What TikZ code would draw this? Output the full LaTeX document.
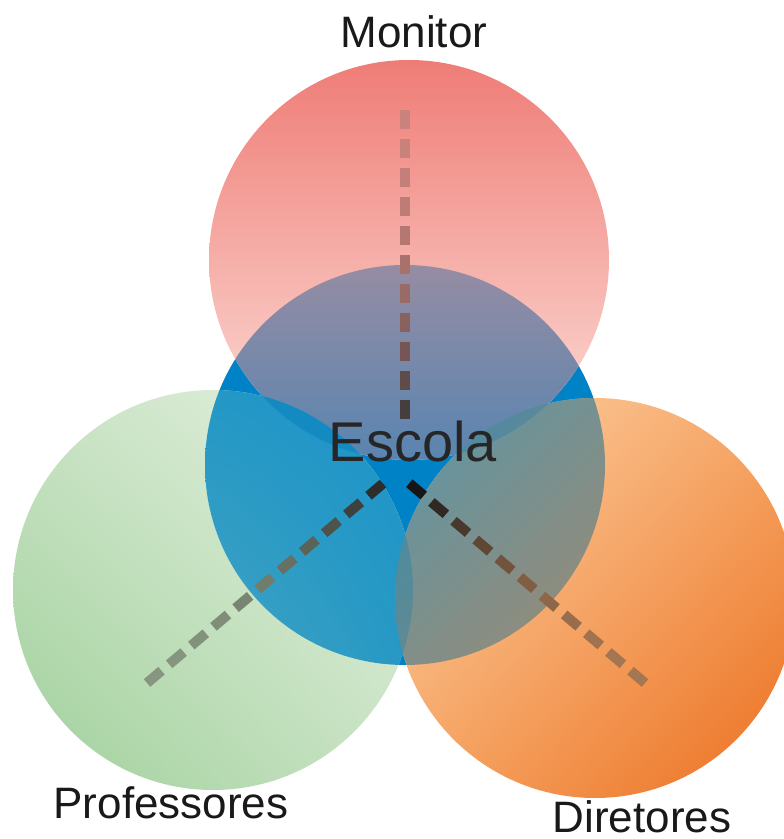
\documentclass[tikz,border=0pt]{standalone}
\usepackage{fontspec}
\setmainfont{Liberation Sans}
\usetikzlibrary{calc,shadings}

% circle colours
\definecolor{montop}{RGB}{239,124,118}
\definecolor{monbot}{RGB}{253,226,220}
\definecolor{escblue}{RGB}{0,130,198}
\definecolor{proA}{RGB}{200,226,195}
\definecolor{proB}{RGB}{232,243,228}
\definecolor{proC}{RGB}{160,208,155}
\definecolor{dirA}{RGB}{253,215,175}
\definecolor{dirB}{RGB}{246,165,100}
\definecolor{dirD}{RGB}{235,110,30}
% colours where the circles cover the blue one
\definecolor{mixmonA}{RGB}{150,140,163}
\definecolor{mixmonB}{RGB}{25,125,190}
\definecolor{mixproA}{RGB}{20,145,195}
\definecolor{mixproB}{RGB}{0,135,198}
\definecolor{mixproC}{RGB}{110,180,195}
\definecolor{mixdirA}{RGB}{60,140,170}
\definecolor{mixdirB}{RGB}{130,135,125}
\definecolor{mixdirD}{RGB}{200,130,80}
% dash colours, far end and centre end
\definecolor{topfar}{RGB}{202,130,124}
\definecolor{topnear}{RGB}{70,62,62}
\definecolor{leftfar}{RGB}{135,150,128}
\definecolor{leftnear}{RGB}{45,45,45}
\definecolor{rightfar}{RGB}{165,118,82}
\definecolor{rightnear}{RGB}{22,22,22}

\tikzset{
  rolename/.style={font=\fontsize{44}{48}\selectfont, text=black!90, inner sep=0pt, anchor=base},
  centrename/.style={font=\fontsize{56}{60}\selectfont, text=black!85, inner sep=0pt, anchor=base},
  dashseg/.style={line width=10pt}
}

\begin{document}
\begin{tikzpicture}[x=1pt,y=1pt]
\useasboundingbox (0,0) rectangle (784,839);
% centres of the four circles
\coordinate (mon) at (409,579);
\coordinate (esc) at (405,374);
\coordinate (pro) at (213,249);
\coordinate (dir) at (595,241);

% the blue one first, the others over it
\fill[escblue] (esc) circle (200pt);
\shade[top color=montop, bottom color=monbot] (mon) circle (200pt);
\shade[upper left=proA, upper right=proB, lower left=proC, lower right=proA] (pro) circle (200pt);
\shade[upper left=dirA, upper right=dirB, lower left=dirB, lower right=dirD] (dir) circle (200pt);

% overlaps with the blue circle
\begin{scope}
\clip (mon) circle (200pt);
\shade[top color=mixmonA, middle color=mixmonB, bottom color=mixmonB] (esc) circle (200pt);
\end{scope}
\begin{scope}
\clip (esc) circle (200pt);
\shade[fill opacity=0.88, upper left=mixproA, upper right=mixproB, lower left=mixproC, lower right=mixproA] (pro) circle (200pt);
\shade[fill opacity=0.85, upper left=mixdirA, upper right=mixdirB, lower left=mixdirB, lower right=mixdirD] (dir) circle (200pt);
\end{scope}

% ends of the dashed lines
\coordinate (tf) at (404.5,729);
\coordinate (tn) at (404.5,420);
\coordinate (lf) at (147,156);
\coordinate (ln) at (386,358);
\coordinate (rf) at (645,156);
\coordinate (rn) at (409,356);

% dashed lines, darker towards the centre
\foreach \far/\near/\cfar/\cnear in {tf/tn/topfar/topnear, lf/ln/leftfar/leftnear, rf/rn/rightfar/rightnear} {
  \foreach \i in {0,...,10} {
    \pgfmathtruncatemacro\p{\i*\i}
    \pgfmathsetmacro\s{29*\i}
    \pgfmathsetmacro\e{29*\i+19}
    \draw[dashseg, draw=\cnear!\p!\cfar] ($(\far)!\s pt!(\near)$) -- ($(\far)!\e pt!(\near)$);
  }
}

\node[rolename] (monitor) at (414,791) {Monitor};
\node[rolename] (professores) at (171,20) {Professores};
\node[rolename] (diretores) at (642,6) {Diretores};
\node[centrename] (escola) at (413,377) {Escola};
\end{tikzpicture}
\end{document}
